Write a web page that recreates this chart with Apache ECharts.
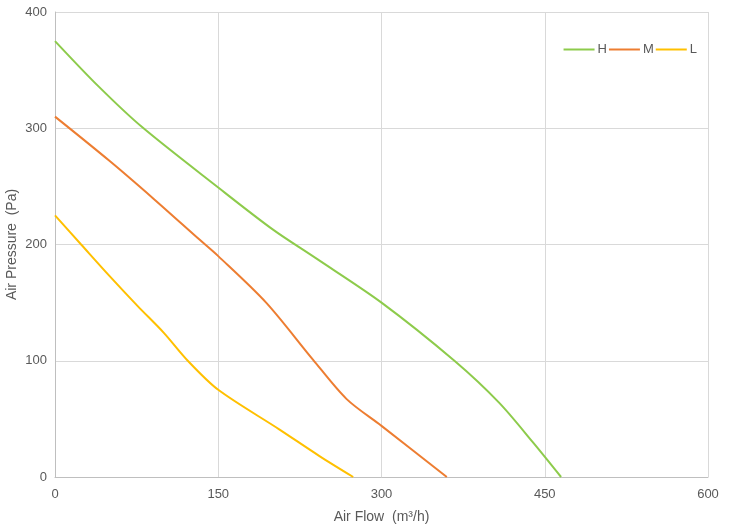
<!DOCTYPE html>
<html>
<head>
<meta charset="utf-8">
<script src="https://cdn.jsdelivr.net/npm/echarts@6/dist/echarts.min.js"></script>
<style>
  html, body { margin: 0; padding: 0; background: #fff; }
  #chart { width: 729px; height: 531px; }
</style>
</head>
<body>
<div id="chart"></div>
<script>
// fan curves, [air flow, air pressure]
var seriesNames = ['H', 'M', 'L'];
var seriesColors = ['#8DCB4B', '#ED7D31', '#FFC000'];
var curveH = [[0, 375], [40, 336], [80, 301], [150, 249], [200, 213], [240, 188], [300, 150], [367, 100], [408, 64], [439, 30], [465, 0]];
var curveM = [[0, 310], [50, 272], [91, 239], [133, 204], [150, 190], [194, 150], [237, 101], [268, 67], [300, 44], [360, 0]];
var curveL = [[0, 225], [24, 200], [50, 173], [76, 147], [100, 124], [122, 100], [150, 75], [206, 41], [243, 18], [274, 0]];
var xTicks = [0, 150, 300, 450, 600];
var yTicks = [0, 100, 200, 300, 400];

var chart = echarts.init(document.getElementById('chart'));
var font = 'Liberation Sans, Arial, sans-serif';
var textColor = '#595959';

var curves = [curveH, curveM, curveL];
var series = curves.map(function (pts, i) {
  return {
    name: seriesNames[i],
    type: 'line',
    data: pts,
    smooth: 0.3,
    symbol: 'none',
    lineStyle: { color: seriesColors[i], width: 2 },
    itemStyle: { color: seriesColors[i] }
  };
});

var option = {
  backgroundColor: '#fff',
  animation: false,
  grid: { left: 55, right: 21, top: 12, bottom: 54, outerBoundsMode: 'none' },
  legend: {
    data: seriesNames,
    right: 27,
    top: 38,
    itemWidth: 31,
    itemHeight: 2,
    itemGap: 2,
    icon: 'rect',
    textStyle: { color: textColor, fontSize: 13, fontFamily: font, padding: [0, 0, 0, -2] }
  },
  xAxis: {
    type: 'value',
    min: xTicks[0],
    max: xTicks[xTicks.length - 1],
    interval: 150,
    name: 'Air Flow  (m³/h)',
    nameLocation: 'middle',
    nameGap: 33,
    nameMoveOverlap: false,
    nameTextStyle: { color: textColor, fontSize: 14, fontFamily: font },
    axisLine: { show: true, lineStyle: { color: '#bfbfbf', width: 1 } },
    axisTick: { show: false },
    axisLabel: { color: textColor, fontSize: 13, fontFamily: font, margin: 11 },
    splitLine: { show: true, lineStyle: { color: '#d9d9d9', width: 1 } }
  },
  yAxis: {
    type: 'value',
    min: yTicks[0],
    max: yTicks[yTicks.length - 1],
    interval: 100,
    name: 'Air Pressure  (Pa)',
    nameLocation: 'middle',
    nameGap: 36,
    nameMoveOverlap: false,
    nameTextStyle: { color: textColor, fontSize: 14, fontFamily: font },
    axisLine: { show: true, lineStyle: { color: '#bfbfbf', width: 1 } },
    axisTick: { show: false },
    axisLabel: { color: textColor, fontSize: 13, fontFamily: font, margin: 8 },
    splitLine: { show: true, lineStyle: { color: '#d9d9d9', width: 1 } }
  },
  series: series
};

chart.setOption(option);
window.onresize = chart.resize;
</script>
</body>
</html>
